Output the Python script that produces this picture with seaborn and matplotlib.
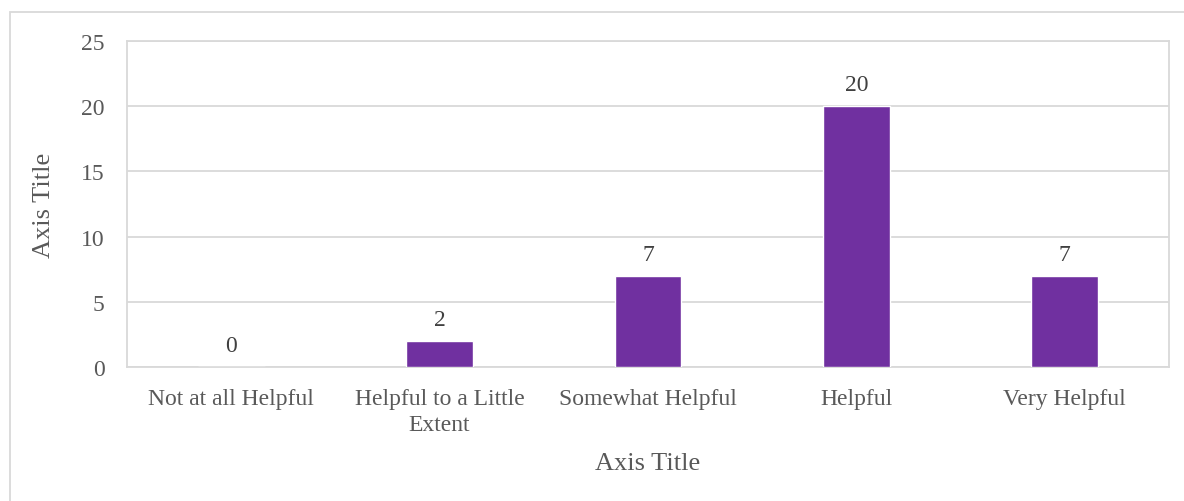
import matplotlib
matplotlib.use("Agg")
import matplotlib.pyplot as plt
import seaborn as sns
import pandas as pd
from matplotlib.patches import Rectangle

categories = ["Not at all Helpful", "Helpful to a Little\nExtent", "Somewhat Helpful",
              "Helpful", "Very Helpful"]
counts = [0, 2, 7, 20, 7]

df = pd.DataFrame({"category": categories, "count": counts})

sns.set_theme(style="white")
plt.rcParams["font.family"] = ["Liberation Serif", "DejaVu Serif"]

text_col = "#595959"
grid_col = "#D9D9D9"
bar_col = "#7030A0"

fig = plt.figure(figsize=(11.84, 5.02), dpi=100)
ax = fig.add_axes([127 / 1184, 1 - 368 / 502, (1169 - 127) / 1184, (368 - 42) / 502])

sns.barplot(data=df, x="category", y="count", color=bar_col, width=0.32,
            saturation=1, ax=ax, zorder=3)

ax.set_ylim(0, 25)
ax.set_yticks(range(0, 26, 5))
ax.yaxis.grid(True, color=grid_col, linewidth=1.3, zorder=0)
ax.set_axisbelow(True)
for s in ["top", "right", "left", "bottom"]:
    ax.spines[s].set_color(grid_col)
    ax.spines[s].set_linewidth(1.3)
ax.tick_params(axis="both", length=0, labelsize=17, colors=text_col)
ax.tick_params(axis="x", pad=15)
ax.tick_params(axis="y", pad=16)
for lbl in ax.get_xticklabels():
    lbl.set_linespacing(1.35)

for i, v in enumerate(counts):
    ax.annotate(str(v), (i, v), xytext=(0, 8), textcoords="offset points",
                ha="center", va="bottom", fontsize=17, color="#404040")

ax.set_xlabel("Axis Title", fontsize=19, color=text_col, labelpad=12)
ax.set_ylabel("Axis Title", fontsize=19, color=text_col, labelpad=19)

fig.patches.append(Rectangle((10 / 1184, -0.05), 1.05, 0.05 + 1 - 13 / 502,
                             transform=fig.transFigure, fill=False,
                             edgecolor=grid_col, linewidth=1.3))

fig.savefig("out.png", dpi=100)
